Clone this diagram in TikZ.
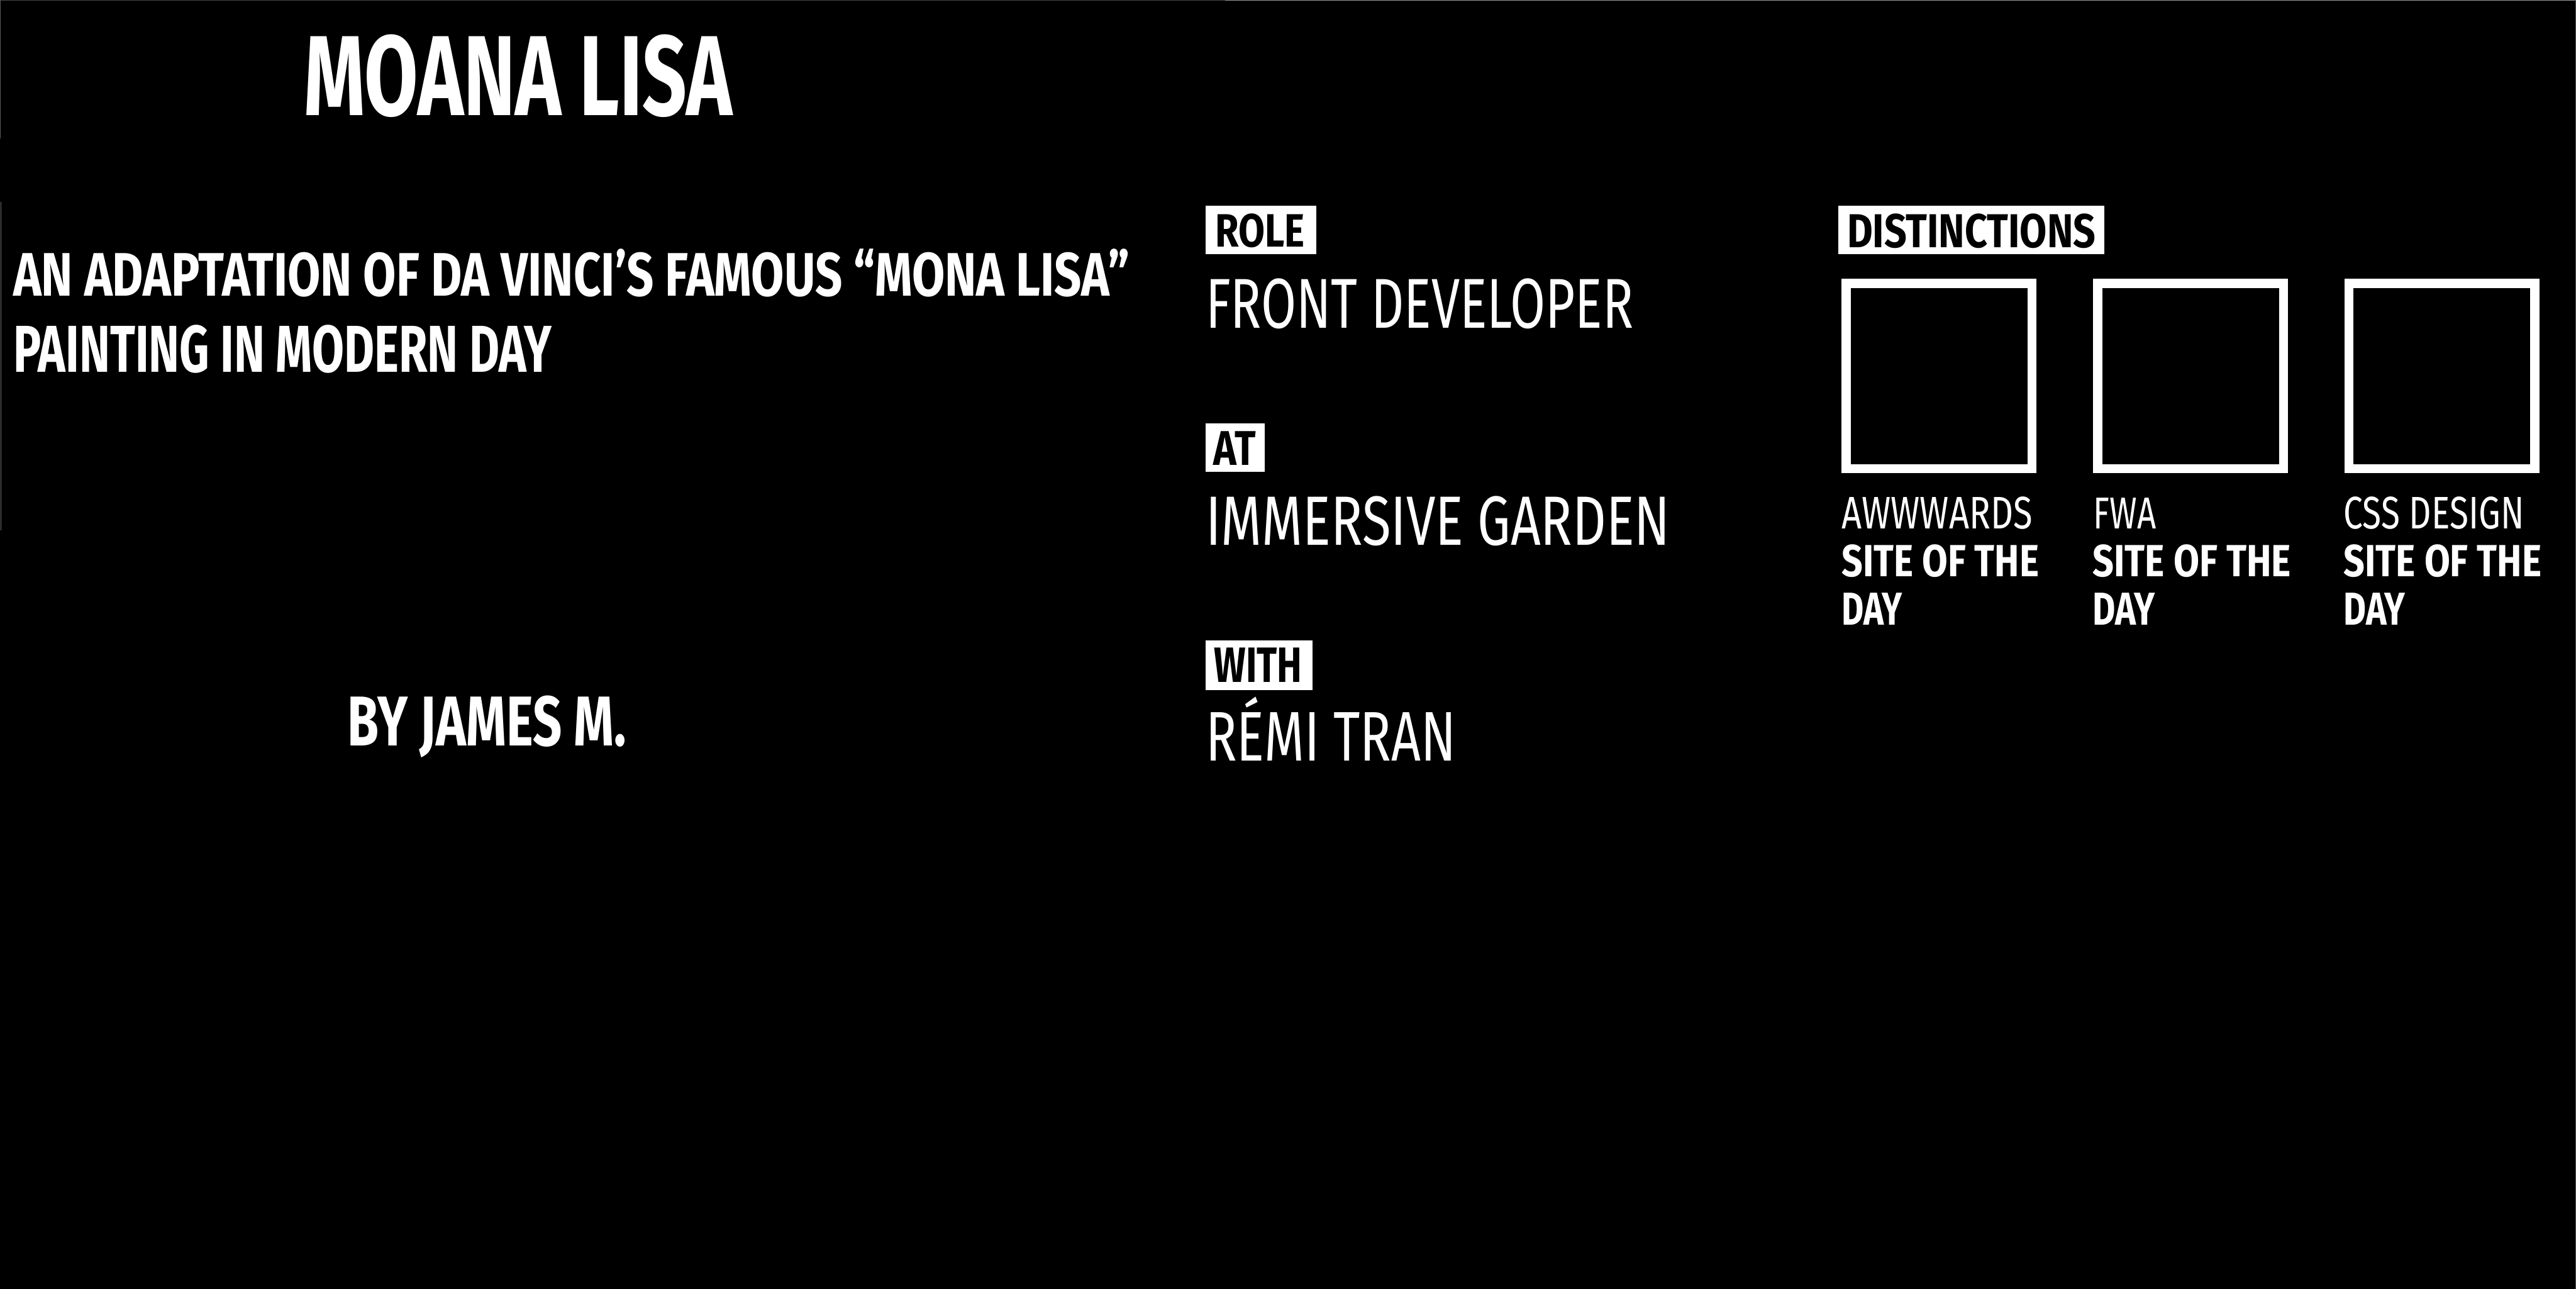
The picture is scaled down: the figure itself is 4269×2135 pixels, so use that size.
\documentclass[tikz,border=0pt]{standalone}
\usepackage{fontspec}
\usepackage{graphicx}
\setmainfont{Fira Sans}
\newlength\upx
\setlength\upx{0.1pt}
\newcommand\fitt[3]{\resizebox{#1\upx}{#2\upx}{#3}}
\begin{document}
\begin{tikzpicture}[x=0.1pt,y=-0.1pt,
  txt/.style={anchor=base west,inner sep=0,outer sep=0,text=white},
  tagtxt/.style={anchor=base west,inner sep=0,outer sep=0,text=black},
  tagbox/.style={fill=white,inner sep=0,outer sep=0,anchor=north west},
  award/.style={draw=white,line width=15\upx,inner sep=0,outer sep=0,minimum width=308\upx,minimum height=307\upx}]
\useasboundingbox (0,0) rectangle (4269,2135);
\fill[black] (0,0) rectangle (4269,2135);
% thin edge lines
\draw[line width=1\upx,color={rgb,255:red,70;green,70;blue,70}] (0,0.5) -- (2030,0.5);
\draw[line width=1\upx,color={rgb,255:red,150;green,150;blue,150}] (2030,0.5) -- (4269,0.5);
\draw[line width=1\upx,color={rgb,255:red,90;green,90;blue,90}] (4268.5,0) -- (4268.5,2135);
\draw[line width=1\upx,color={rgb,255:red,90;green,90;blue,90}] (0.5,0) -- (0.5,229);
\draw[line width=1\upx,color={rgb,255:red,110;green,110;blue,110}] (1.5,334) -- (1.5,879);
% left column
\node[txt] (title) at (504,191) {\fitt{710}{134}{\bfseries MOANA LISA}};
\node[txt] (desc1) at (22,490) {\fitt{1850}{78}{\bfseries AN ADAPTATION OF DA VINCI’S FAMOUS “MONA LISA”}};
\node[txt] (desc2) at (22,616) {\fitt{892}{78}{\bfseries PAINTING IN MODERN DAY}};
\node[txt] (by) at (576,1235) {\fitt{462}{83}{\bfseries BY JAMES M.}};
% middle column
\node[tagbox,minimum width=183\upx,minimum height=80.5\upx] (rolebox) at (1998,341) {};
\node[tagtxt] (role) at (2014,409) {\fitt{148}{55}{\bfseries ROLE}};
\node[txt] (front) at (1998,543) {\fitt{709}{82}{FRONT DEVELOPER}};
\node[tagbox,minimum width=98\upx,minimum height=81\upx] (atbox) at (1998,701) {};
\node[tagtxt] (at) at (2011,771) {\fitt{70}{56}{\bfseries AT}};
\node[txt] (garden) at (1998,903) {\fitt{770}{81}{IMMERSIVE GARDEN}};
\node[tagbox,minimum width=177\upx,minimum height=82\upx] (withbox) at (1998,1061) {};
\node[tagtxt] (with) at (2012,1130) {\fitt{146}{57}{\bfseries WITH}};
\node[txt] (remi) at (1998,1261) {\fitt{415}{106}{RÉMI TRAN}};
% right column
\node[tagbox,minimum width=441\upx,minimum height=80\upx] (distbox) at (3046,341) {};
\node[tagtxt] (dist) at (3061,410) {\fitt{412}{56}{\bfseries DISTINCTIONS}};
\node[award] (sq1) at (3213.5,623) {};
\node[award] (sq2) at (3630.5,623) {};
\node[award] (sq3) at (4046.5,623) {};
\node[txt] (aw) at (3052,876) {\fitt{316}{53}{AWWWARDS}};
\node[txt] (aws) at (3052,955) {\fitt{327}{53}{\bfseries SITE OF THE}};
\node[txt] (awd) at (3052,1035) {\fitt{100}{53}{\bfseries DAY}};
\node[txt] (fwa) at (3469,876) {\fitt{104}{51}{FWA}};
\node[txt] (fwas) at (3468,955) {\fitt{329}{53}{\bfseries SITE OF THE}};
\node[txt] (fwad) at (3468,1035) {\fitt{103}{53}{\bfseries DAY}};
\node[txt] (css) at (3884,876) {\fitt{299}{53}{CSS DESIGN}};
\node[txt] (csss) at (3884,955) {\fitt{328}{53}{\bfseries SITE OF THE}};
\node[txt] (cssd) at (3884,1035) {\fitt{102}{53}{\bfseries DAY}};
\end{tikzpicture}
\end{document}
